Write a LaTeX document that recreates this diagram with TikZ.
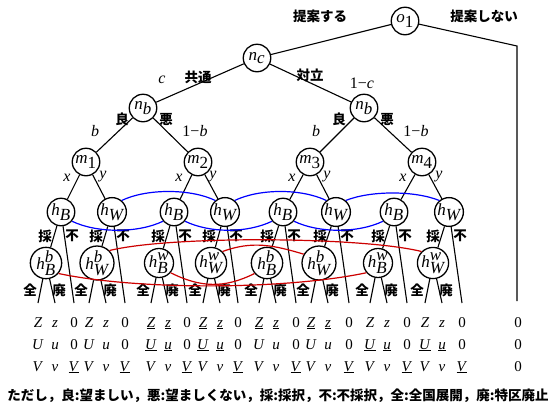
\documentclass[tikz,border=0pt]{standalone}
\usepackage{fontspec}
\setmainfont{Liberation Serif}
\newfontfamily\jpfont{Noto Sans CJK JP}
\newcommand{\tvar}[1]{\textit{#1}}
\newcommand{\mayul}[2]{\ifnum#1=1 \underline{#2}\else#2\fi}
\begin{document}
\begin{tikzpicture}[x=1pt,y=-1pt,
  dec/.style={circle,draw,line width=1.3pt,minimum size=27.5pt,inner sep=0pt,
              font=\fontsize{17}{17}\selectfont},
  edge/.style={line width=1.1pt},
  jlab/.style={font=\jpfont\bfseries\fontsize{13.5}{13.5}\selectfont,inner sep=0pt},
  plab/.style={font=\fontsize{16}{16}\selectfont\itshape,inner sep=0pt},
  pay/.style={font=\fontsize{15}{15}\selectfont,anchor=base,inner sep=0pt},
  blueset/.style={draw=blue,line width=1.2pt},
  redset/.style={draw=red!80!black,line width=1.2pt}]
\useasboundingbox (0,0) rectangle (553,410);

% upper part of the tree
\node[dec] (o1)  at (405,21)  {$\tvar{o}_{\textup{1}}$};
\node[dec] (nc)  at (257,58)  {$\tvar{n}_{\tvar{c}}$};
\node[dec] (nbL) at (143,108) {$\tvar{n}_{\tvar{b}}$};
\node[dec] (nbR) at (364,108) {$\tvar{n}_{\tvar{b}}$};
\foreach \i/\mx in {1/86,2/198,3/310,4/422}
  \node[dec] (m\i) at (\mx,162) {$\tvar{m}_{\textup{\i}}$};

\coordinate (c0) at (517,46);
\coordinate (z0) at (517,301);
\draw[edge] (o1) -- (nc);
\draw[edge] (o1) -- (c0) -- (z0);
\draw[edge] (nc) -- (nbL);
\draw[edge] (nc) -- (nbR);
\draw[edge] (nbL) -- (m1);
\draw[edge] (nbL) -- (m2);
\draw[edge] (nbR) -- (m3);
\draw[edge] (nbR) -- (m4);

% lower levels: h nodes, second-stage nodes, leaves and payoffs
\foreach \g/\kx/\hx/\zu/\uu/\sb/\sp in {1/46/61/0/0/B/b, 2/97/112/0/0/W/b,
    3/159/174/1/1/B/w, 4/211/225/1/1/W/w, 5/267/283/1/0/B/b, 6/319/336/1/0/W/b,
    7/378/394/0/1/B/w, 8/433/449/0/1/W/w}{
  \node[dec] (h\g) at (\hx,212) {$\tvar{h}_{\tvar{\sb}}$};
  \node[dec] (k\g) at (\kx,263) {$\tvar{h}^{\tvar{\sp}}_{\tvar{\sb}}$};
  \coordinate (a\g) at ({\kx-8},303);
  \coordinate (d\g) at ({\kx+9},303);
  \coordinate (r\g) at ({\hx+13},303);
  \draw[edge] (h\g) -- (k\g);
  \draw[edge] (h\g) -- (r\g);
  \draw[edge] (k\g) -- (a\g);
  \draw[edge] (k\g) -- (d\g);
  \node[jlab] (sa\g) at ({\hx-16},236) {採};
  \node[jlab] (sn\g) at ({\hx+11},236) {不};
  \node[jlab] (sz\g) at ({\kx-16},290) {全};
  \node[jlab] (sh\g) at ({\kx+13},290) {廃};
  \node[pay] (pz\g a) at ({\kx-8},327)  {\mayul{\zu}{\textit{Z}}};
  \node[pay] (pz\g d) at ({\kx+9},327)  {\mayul{\zu}{\textit{z}}};
  \node[pay] (pz\g r) at ({\hx+13},327) {0};
  \node[pay] (pu\g a) at ({\kx-8},349)  {\mayul{\uu}{\textit{U}}};
  \node[pay] (pu\g d) at ({\kx+9},349)  {\mayul{\uu}{\textit{u}}};
  \node[pay] (pu\g r) at ({\hx+13},349) {0};
  \node[pay] (pv\g a) at ({\kx-8},371)  {\textit{V}};
  \node[pay] (pv\g d) at ({\kx+9},371)  {\textit{v}};
  \node[pay] (pv\g r) at ({\hx+13},371) {\underline{\textit{V}}};
}
\foreach \i/\l/\r in {1/1/2,2/3/4,3/5/6,4/7/8}{
  \draw[edge] (m\i) -- (h\l);
  \draw[edge] (m\i) -- (h\r);
}
\node[pay] (p0z) at (518,327) {0};
\node[pay] (p0u) at (518,349) {0};
\node[pay] (p0v) at (518,371) {0};

% information sets
\draw[blueset] (h2.50) .. controls +(25,-12) and +(-25,-12) .. (h4.130);
\draw[blueset] (h4.50) .. controls +(25,-12) and +(-25,-12) .. (h6.130);
\draw[blueset] (h6.50) .. controls +(25,-10) and +(-25,-10) .. (h8.130);
\draw[blueset] (h1.-40) .. controls +(25,12) and +(-25,12) .. (h3.-140);
\draw[blueset] (h3.-40) .. controls +(25,12) and +(-25,12) .. (h5.-140);
\draw[blueset] (h5.-40) .. controls +(25,12) and +(-25,12) .. (h7.-140);
\draw[redset] (k2.45) .. controls +(60,-15) and +(-60,-15) .. (k8.135);
\draw[redset] (k4.45) .. controls +(30,-11) and +(-30,-9) .. (k6.150);
\draw[redset] (k1.-40) .. controls +(80,17) and +(-80,17) .. (k7.-140);
\draw[redset] (k3.-40) .. controls +(30,15) and +(-30,15) .. (k5.-140);

% branch labels
\node[jlab] (lp) at (320,16) {提案する};
\node[jlab] (ln) at (484,16) {提案しない};
\node[plab] (lc) at (162,80) {c};
\node[jlab] (lk) at (198,77) {共通};
\node[jlab] (lt) at (310,75) {対立};
\node[plab] (l1c) at (362,83) {{\upshape 1−}c};
\node[jlab] (g1) at (122,119) {良};
\node[jlab] (w1) at (166,119) {悪};
\node[jlab] (g2) at (339,119) {良};
\node[jlab] (w2) at (387,119) {悪};
\node[plab] (b1) at (95,131) {b};
\node[plab] (nb1) at (195,131) {{\upshape 1−}b};
\node[plab] (b2) at (316,131) {b};
\node[plab] (nb2) at (416,131) {{\upshape 1−}b};
\foreach \i/\xx/\yy in {1/67/103,2/179/213,3/292/327,4/403/439}{
  \node[plab] (x\i) at (\xx,178) {x};
  \node[plab] (y\i) at (\yy,177) {y};
}

\node[jlab] (foot) at (278,396) {ただし，良:望ましい，悪:望ましくない，採:採択，不:不採択，全:全国展開，廃:特区廃止};
\end{tikzpicture}
\end{document}
